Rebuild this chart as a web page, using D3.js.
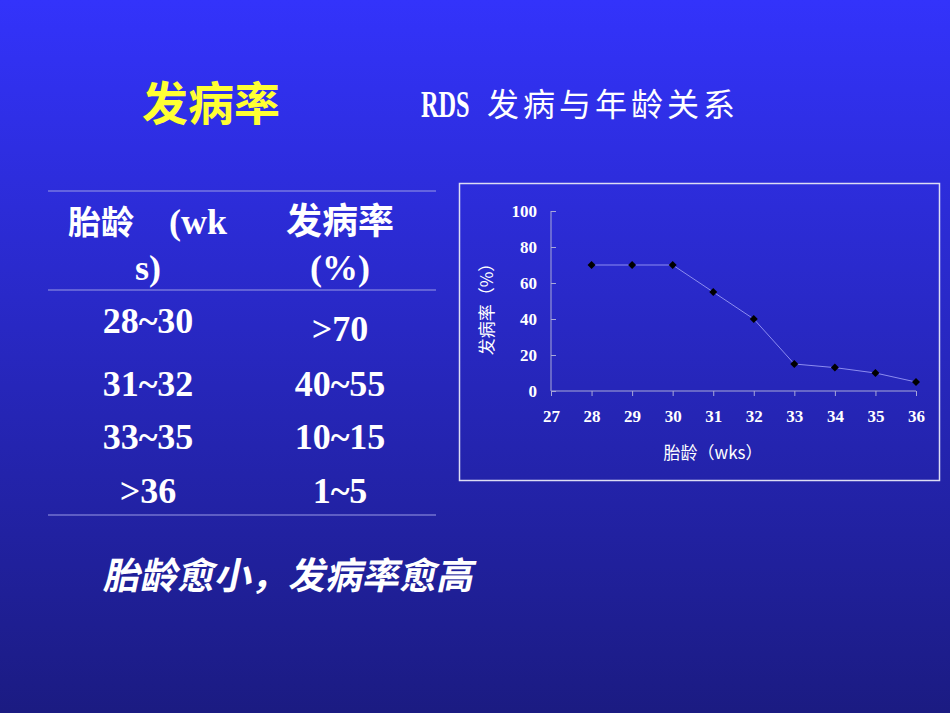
<!DOCTYPE html>
<html lang="zh">
<head>
<meta charset="utf-8">
<title>RDS 发病与年龄关系</title>
<style>
  html, body { margin: 0; padding: 0; overflow: hidden; }
  .serif { font-family: "Liberation Serif", "DejaVu Serif", serif; font-weight: bold; }
  .cjk { font-family: "Noto Sans CJK SC", sans-serif; }
  .axis text { font-family: "Liberation Serif", serif; font-weight: bold; font-size: 17px; fill: #fff; }
  .axis path, .axis line { stroke: #a8a8d8; }
</style>
</head>
<body>
<script src="https://cdn.jsdelivr.net/npm/d3@7"></script>
<script>
// gestational age (weeks) vs RDS incidence (%)
var weeks = [28, 29, 30, 31, 32, 33, 34, 35, 36];
var rates = [70, 70, 70, 55, 40, 15, 13, 10, 5];
var xTicks = [27, 28, 29, 30, 31, 32, 33, 34, 35, 36];
var yTicks = [0, 20, 40, 60, 80, 100];

// table on the left
var tableAges = ["28~30", "31~32", "33~35", ">36"];
var tableRates = [">70", "40~55", "10~15", "1~5"];

var W = 950, H = 713;

var svg = d3.select("body").append("svg")
  .attr("width", W)
  .attr("height", H);

// background gradient
var grad = svg.append("defs").append("linearGradient")
  .attr("id", "bg")
  .attr("x1", 0).attr("y1", 0).attr("x2", 0).attr("y2", 1);
grad.append("stop").attr("offset", "0%").attr("stop-color", "#3333fb");
grad.append("stop").attr("offset", "100%").attr("stop-color", "#1b1b82");
svg.append("rect").attr("width", W).attr("height", H).attr("fill", "url(#bg)");

// titles
svg.append("text")
  .attr("x", 211).attr("y", 120)
  .attr("text-anchor", "middle")
  .attr("class", "cjk")
  .attr("font-size", 46).attr("font-weight", "bold")
  .attr("fill", "#ffff33")
  .text("发病率");

svg.append("text")
  .attr("class", "serif")
  .attr("font-weight", "normal")
  .attr("transform", "translate(421,117) scale(0.64,1)")
  .attr("font-size", 38)
  .attr("fill", "#fff")
  .text("RDS");

svg.append("text")
  .attr("class", "cjk")
  .attr("x", 487).attr("y", 116)
  .attr("font-size", 32)
  .attr("letter-spacing", 4)
  .attr("fill", "#fff")
  .text("发病与年龄关系");

// ---- table ----
var tbl = svg.append("g");
var colX = [148, 340];

[191, 290, 515].forEach(function(y) {
  tbl.append("line")
    .attr("x1", 48).attr("x2", 436)
    .attr("y1", y).attr("y2", y)
    .attr("stroke", "#9a9ae6").attr("stroke-width", 1);
});

tbl.append("text").attr("class", "cjk").attr("x", 68).attr("y", 234)
  .attr("fill", "#fff").attr("font-size", 33).attr("font-weight", "bold").text("胎龄");
tbl.append("text").attr("class", "serif").attr("x", 169).attr("y", 234)
  .attr("fill", "#fff").attr("font-size", 36).text("(wk");
tbl.append("text").attr("class", "serif").attr("x", colX[0]).attr("y", 280)
  .attr("text-anchor", "middle").attr("fill", "#fff").attr("font-size", 36).text("s)");

tbl.append("text").attr("class", "cjk").attr("x", colX[1]).attr("y", 234)
  .attr("text-anchor", "middle").attr("fill", "#fff").attr("font-size", 36)
  .attr("font-weight", "bold").text("发病率");
tbl.append("text").attr("class", "serif").attr("x", colX[1]).attr("y", 280)
  .attr("text-anchor", "middle").attr("fill", "#fff").attr("font-size", 36).text("(%)");

var rowY = [333, 396, 449, 503];
var rowY2 = [341, 396, 449, 503];

tbl.selectAll("text.age")
  .data(tableAges)
  .enter().append("text")
  .attr("class", "age serif")
  .attr("x", colX[0])
  .attr("y", function(d, i) { return rowY[i]; })
  .attr("text-anchor", "middle")
  .attr("fill", "#fff")
  .attr("font-size", 36)
  .text(function(d) { return d; });

tbl.selectAll("text.rate")
  .data(tableRates)
  .enter().append("text")
  .attr("class", "rate serif")
  .attr("x", colX[1])
  .attr("y", function(d, i) { return rowY2[i]; })
  .attr("text-anchor", "middle")
  .attr("fill", "#fff")
  .attr("font-size", 36)
  .text(function(d) { return d; });

// bottom note
svg.append("text")
  .attr("x", 103).attr("y", 589)
  .attr("class", "cjk")
  .attr("font-size", 37)
  .attr("font-weight", "bold")
  .attr("fill", "#fff")
  .attr("transform", "skewX(-12) translate(125,0)")
  .text("胎龄愈小，发病率愈高");

// ---- chart ----
svg.append("rect")
  .attr("x", 459.5).attr("y", 183.5)
  .attr("width", 480).attr("height", 297)
  .attr("fill", "none")
  .attr("stroke", "#dcdcf4").attr("stroke-width", 1.5);

var x = d3.scaleLinear().domain([27, 36]).range([551, 916]);
var y = d3.scaleLinear().domain([0, 100]).range([391, 211]);

var xAxis = d3.axisBottom(x)
  .tickValues(xTicks)
  .tickSize(5)
  .tickPadding(14)
  .tickFormat(d3.format("d"));

var yAxis = d3.axisLeft(y)
  .tickValues(yTicks)
  .tickSize(5)
  .tickPadding(8);

var gx = svg.append("g")
  .attr("class", "axis")
  .attr("transform", "translate(0," + 391 + ")")
  .call(xAxis);
gx.select(".domain").attr("d", "M" + x(27) + ",0H" + x(36));

var gy = svg.append("g")
  .attr("class", "axis")
  .attr("transform", "translate(" + 551 + ",0)")
  .call(yAxis);
gy.select(".domain").attr("d", "M0," + y(100) + "V" + y(0));
gy.selectAll(".tick line").attr("x2", 5);
gy.selectAll(".tick text").attr("x", -14);

// axis titles
svg.append("text")
  .attr("class", "cjk")
  .attr("x", 713).attr("y", 459)
  .attr("text-anchor", "middle")
  .attr("fill", "#fff")
  .attr("font-size", 17)
  .text("胎龄（wks）");

svg.append("text")
  .attr("class", "cjk")
  .attr("transform", "translate(493,305) rotate(-90)")
  .attr("text-anchor", "middle")
  .attr("fill", "#fff")
  .attr("font-size", 17)
  .text("发病率（%）");

var pts = weeks.map(function(w, i) { return [w, rates[i]]; });

svg.append("path")
  .datum(pts)
  .attr("fill", "none")
  .attr("stroke", "#8c8cf0")
  .attr("stroke-width", 1)
  .attr("d", d3.line()
    .x(function(d) { return x(d[0]); })
    .y(function(d) { return y(d[1]); }));

svg.selectAll("path.pt")
  .data(pts)
  .enter().append("path")
  .attr("class", "pt")
  .attr("transform", function(d) { return "translate(" + x(d[0]) + "," + y(d[1]) + ") rotate(45)"; })
  .attr("d", d3.symbol().type(d3.symbolSquare).size(32))
  .attr("fill", "#000");
</script>
</body>
</html>
